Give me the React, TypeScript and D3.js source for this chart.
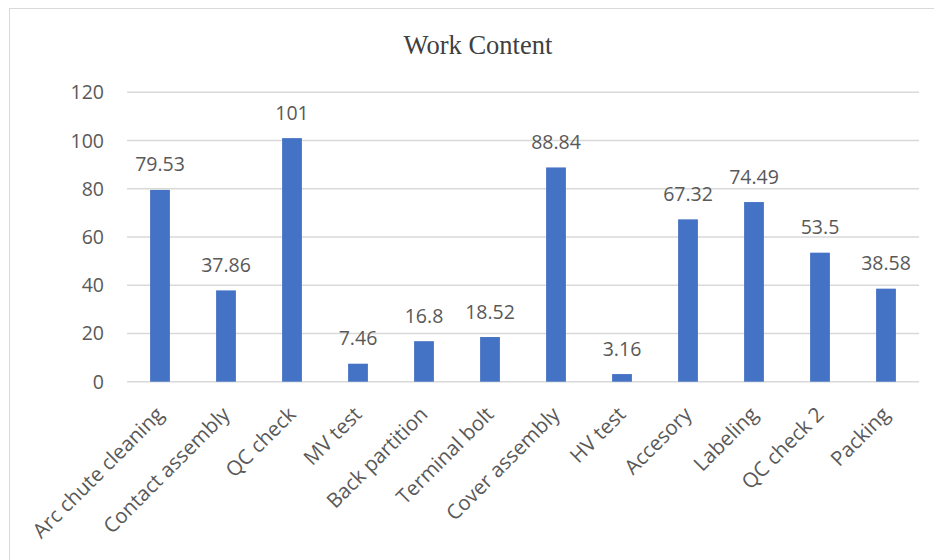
import React from "react";
import * as d3 from "d3";

const categories = [
  "Arc chute cleaning",
  "Contact assembly",
  "QC check",
  "MV test",
  "Back partition",
  "Terminal bolt",
  "Cover assembly",
  "HV test",
  "Accesory",
  "Labeling",
  "QC check 2",
  "Packing",
];
const values = [79.53, 37.86, 101, 7.46, 16.8, 18.52, 88.84, 3.16, 67.32, 74.49, 53.5, 38.58];
const yTicks = [0, 20, 40, 60, 80, 100, 120];
const title = "Work Content";

const W = 934;
const H = 560;
const plot = { left: 127, right: 919, top: 92.3, bottom: 381.7 };
const sans = "'Open Sans', 'Noto Sans', sans-serif";
const textColor = "#595959";

export default function App() {
  const x = d3
    .scaleBand<string>()
    .domain(categories)
    .range([plot.left, plot.right])
    .paddingInner(0.7)
    .paddingOuter(0.35);
  const y = d3.scaleLinear().domain([0, 120]).range([plot.bottom, plot.top]);

  return (
    <svg
      width={W}
      height={H}
      style={{ position: "absolute", left: 0, top: 0, background: "#fff" }}
    >
      <rect x={9.5} y={8.5} width={W + 10} height={H + 10} fill="#fff" stroke="#d9d9d9" />
      <text
        x={478}
        y={54}
        textAnchor="middle"
        fontFamily="'Liberation Serif', 'Times New Roman', serif"
        fontSize={26.5}
        fill="#404040"
      >
        {title}
      </text>
      {yTicks.map((t) => (
        <g key={t}>
          <line
            x1={plot.left}
            x2={plot.right}
            y1={y(t)}
            y2={y(t)}
            stroke="#d9d9d9"
            strokeWidth={1.4}
          />
          <text
            x={104}
            y={y(t)}
            dy="0.36em"
            textAnchor="end"
            fontFamily={sans}
            fontSize={19.5}
            fill={textColor}
          >
            {t}
          </text>
        </g>
      ))}
      {categories.map((c, i) => {
        const bx = x(c)!;
        const cx = bx + x.bandwidth() / 2;
        return (
          <g key={c}>
            <rect
              x={bx}
              y={y(values[i])}
              width={x.bandwidth()}
              height={y(0) - y(values[i])}
              fill="#4472C4"
            />
            <text
              x={cx}
              y={y(values[i]) - 18.5}
              textAnchor="middle"
              fontFamily={sans}
              fontSize={19.5}
              fill={textColor}
            >
              {values[i]}
            </text>
            <text
              transform={`translate(${cx + 5},${y(0) + 34}) rotate(-45)`}
              textAnchor="end"
              fontFamily={sans}
              fontSize={20.5}
              fill={textColor}
            >
              {c}
            </text>
          </g>
        );
      })}
    </svg>
  );
}
